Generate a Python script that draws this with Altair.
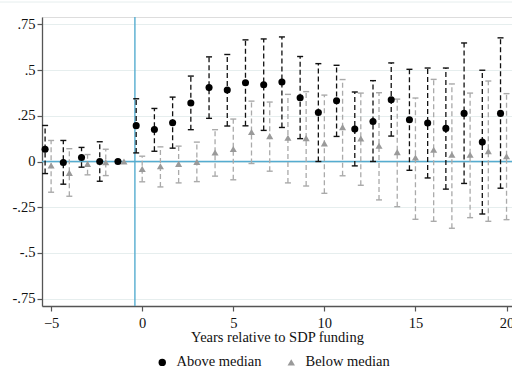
import altair as alt
import pandas as pd

years = list(range(-5, 21))

above_est = [0.067, -0.005, 0.022, 0.0, 0.0, 0.196, 0.175, 0.212, 0.32, 0.404, 0.391, 0.431, 0.42,
             0.435, 0.349, 0.268, 0.332, 0.177, 0.219, 0.338, 0.228, 0.21, 0.181, 0.263, 0.106, 0.263]
above_lo = [-0.066, -0.124, -0.031, -0.108, None, 0.047, 0.056, 0.073, 0.174, 0.236, 0.194, 0.195, 0.17,
            0.186, 0.125, 0.0, 0.137, -0.024, 0.0, 0.139, -0.048, -0.09, -0.151, -0.12, -0.287, -0.146]
above_hi = [0.197, 0.115, 0.077, 0.108, None, 0.343, 0.29, 0.352, 0.467, 0.572, 0.585, 0.665, 0.67,
            0.681, 0.574, 0.535, 0.526, 0.38, 0.442, 0.539, 0.504, 0.511, 0.511, 0.648, 0.499, 0.676]

below_est = [-0.022, -0.062, -0.013, -0.004, 0.0, -0.04, -0.026, -0.013, -0.002, 0.049, 0.068, 0.161, 0.139,
             0.13, 0.128, 0.099, 0.188, 0.126, 0.086, 0.051, 0.022, 0.064, 0.037, 0.037, 0.057, 0.029]
below_lo = [-0.168, -0.19, -0.073, -0.077, None, -0.111, -0.139, -0.117, -0.11, -0.08, -0.1, -0.011, -0.053,
            -0.117, -0.134, -0.174, -0.078, -0.13, -0.21, -0.247, -0.316, -0.327, -0.365, -0.307, -0.327, -0.318]
below_hi = [0.115, 0.07, 0.038, 0.067, None, 0.029, 0.08, 0.084, 0.106, 0.174, 0.232, 0.33, 0.325,
            0.367, 0.382, 0.363, 0.448, 0.374, 0.376, 0.341, 0.347, 0.449, 0.424, 0.374, 0.44, 0.371]

groups = ["Above median", "Below median"]
x_ticks = [-5, 0, 5, 10, 15, 20]
y_ticks = [-0.75, -0.5, -0.25, 0, 0.25, 0.5, 0.75]
y_tick_labels = ["-.75", "-.5", "-.25", "0", ".25", ".5", ".75"]
event_line = -0.4
x_title = "Years relative to SDP funding"

style = {
    "Above median": {"offset": -0.33, "point": "#000000", "bar": "#111111", "shape": "circle"},
    "Below median": {"offset": 0.0, "point": "#9a9a9a", "bar": "#aaaaaa", "shape": "triangle-up"},
}

rows = []
for g, est, lo, hi in [("Above median", above_est, above_lo, above_hi),
                       ("Below median", below_est, below_lo, below_hi)]:
    for t, e, l, h in zip(years, est, lo, hi):
        rows.append({"group": g, "t": t, "est": e, "lo": l, "hi": h,
                     "xpos": t + style[g]["offset"]})
df = pd.DataFrame(rows)

FONT = "Liberation Serif"
FS = 14.5
xscale = alt.Scale(domain=[-5.5, 20.3], nice=False, zero=False)
yscale = alt.Scale(domain=[-0.79, 0.79], nice=False, zero=False)

label_expr = " : ".join(
    f"abs(datum.value - ({v})) < 0.001 ? '{s}'" for v, s in zip(y_ticks, y_tick_labels)
) + " : ''"

xaxis = alt.Axis(values=x_ticks, title=x_title, grid=False, labelFont=FONT, titleFont=FONT,
                 labelFontSize=FS, titleFontSize=FS, titleFontWeight="normal",
                 labelColor="#111", titleColor="#111", domainColor="#555", tickColor="#555",
                 domainWidth=1.3, tickWidth=1.2, tickSize=5, labelPadding=5, titlePadding=1)
yaxis = alt.Axis(values=y_ticks, title=None, grid=True, gridColor="#e6eeee", gridWidth=1,
                 labelExpr=label_expr, labelFont=FONT, labelFontSize=FS, labelColor="#111",
                 domainColor="#555", tickColor="#555", domainWidth=1.3, tickWidth=1.2,
                 tickSize=5, labelPadding=2)

base = alt.Chart(df)

axes_layer = base.mark_point(opacity=0).encode(
    x=alt.X("xpos:Q", scale=xscale, axis=xaxis),
    y=alt.Y("est:Q", scale=yscale, axis=yaxis),
)

top_line = alt.Chart(pd.DataFrame({"a": [0]})).mark_rule(color="#e6eeee", strokeWidth=1).encode(
    x=alt.value(-42), x2=alt.value(470), y=alt.value(-15)
)

hline = alt.Chart(pd.DataFrame({"y": [0]})).mark_rule(color="#55acd0", strokeWidth=1.4).encode(
    y=alt.Y("y:Q", scale=yscale)
)
vline = alt.Chart(pd.DataFrame({"x": [event_line]})).mark_rule(color="#55acd0", strokeWidth=1.4).encode(
    x=alt.X("x:Q", scale=xscale)
)

layers = [top_line, axes_layer, hline, vline]
for g in groups[::-1]:
    s = style[g]
    sub = base.transform_filter(alt.datum.group == g).transform_filter("isValid(datum.lo)")
    bars = sub.mark_rule(color=s["bar"], strokeWidth=1.3, strokeDash=[5, 3]).encode(
        x=alt.X("xpos:Q", scale=xscale), y=alt.Y("lo:Q", scale=yscale), y2="hi:Q"
    )
    cap_lo = sub.mark_point(shape="M-1,0L1,0", size=36, filled=False, strokeWidth=1.4,
                            color=s["bar"], opacity=1).encode(
        x=alt.X("xpos:Q", scale=xscale), y=alt.Y("lo:Q", scale=yscale)
    )
    cap_hi = sub.mark_point(shape="M-1,0L1,0", size=36, filled=False, strokeWidth=1.4,
                            color=s["bar"], opacity=1).encode(
        x=alt.X("xpos:Q", scale=xscale), y=alt.Y("hi:Q", scale=yscale)
    )
    layers += [bars, cap_lo, cap_hi]

points = base.mark_point(filled=True, opacity=1, size=50).encode(
    x=alt.X("xpos:Q", scale=xscale),
    y=alt.Y("est:Q", scale=yscale),
    color=alt.Color("group:N", scale=alt.Scale(domain=groups,
                    range=[style[g]["point"] for g in groups]),
                    legend=alt.Legend(title=None, orient="none", direction="horizontal",
                                      legendX=113, legendY=338, labelFont=FONT, labelFontSize=FS,
                                      labelColor="#111", symbolSize=55, labelOffset=7,
                                      columnPadding=22, padding=0)),
    shape=alt.Shape("group:N", scale=alt.Scale(domain=groups,
                    range=[style[g]["shape"] for g in groups]), legend=None),
)
layers.append(points)

chart = alt.layer(*layers).properties(
    width=470, height=289,
    autosize=alt.AutoSizeParams(type="none"),
    padding={"left": 42, "top": 17, "right": 0, "bottom": 66},
).configure_view(stroke=None).configure(background="white")

chart.save("out.html", embed_options={"renderer": "svg", "actions": False})
